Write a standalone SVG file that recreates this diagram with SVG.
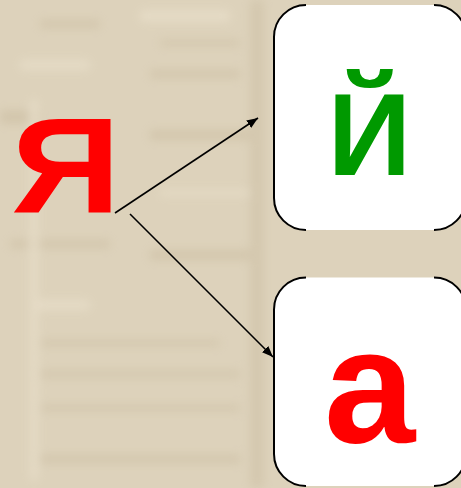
<svg xmlns="http://www.w3.org/2000/svg" width="461" height="488" viewBox="0 0 461 488">
<style>
.card{fill:#ffffff;stroke:none}
.edge{fill:none;stroke:#000000;stroke-width:2}
.conn{stroke:#000000;stroke-width:1.6;fill:none}
.letter{font-family:"Liberation Sans",Arial,sans-serif;font-weight:bold;text-anchor:middle}
</style>
<defs>
<marker id="arr" viewBox="0 0 10 8" refX="10" refY="4" markerWidth="7" markerHeight="5.6" orient="auto" markerUnits="strokeWidth">
<path d="M0,0 L10,4 L0,8 Z" fill="#000000"/>
</marker>
<filter id="blur" x="-20%" y="-50%" width="140%" height="200%"><feGaussianBlur stdDeviation="5"/></filter>
</defs>
<rect x="0" y="0" width="461" height="488" fill="#ddd2bb"/>
<g filter="url(#blur)" opacity="0.4">
<rect x="40" y="20" width="60" height="8" fill="#c4b598"/>
<rect x="140" y="10" width="90" height="12" fill="#f2e9d6"/>
<rect x="160" y="40" width="80" height="6" fill="#c4b598"/>
<rect x="20" y="60" width="70" height="10" fill="#f2e9d6"/>
<rect x="150" y="70" width="90" height="8" fill="#c4b598"/>
<rect x="0" y="110" width="40" height="14" fill="#c4b598"/>
<rect x="150" y="130" width="100" height="10" fill="#c4b598"/>
<rect x="160" y="190" width="90" height="6" fill="#f2e9d6"/>
<rect x="10" y="240" width="100" height="8" fill="#c4b598"/>
<rect x="150" y="250" width="100" height="10" fill="#c4b598"/>
<rect x="30" y="300" width="60" height="10" fill="#f2e9d6"/>
<rect x="40" y="340" width="180" height="6" fill="#c4b598"/>
<rect x="40" y="370" width="200" height="8" fill="#c8ba9e"/>
<rect x="40" y="405" width="200" height="6" fill="#c4b598"/>
<rect x="40" y="455" width="200" height="8" fill="#c4b598"/>
<rect x="30" y="100" width="8" height="380" fill="#f2e9d6"/>
<rect x="250" y="0" width="14" height="488" fill="#c8ba9e"/>
</g>
<g id="node-ya">
<text class="letter" x="66" y="212" font-size="136" fill="#ff0000" transform="translate(66 0) scale(1.12 1) translate(-66 0)">Я</text>
</g>
<g id="node-y">
<rect class="card" x="273.5" y="5" width="192" height="225" rx="32" ry="32"/>
<path class="edge" d="M306,5 A32,32 0 0 0 274,37 L274,198 A32,32 0 0 0 306,230 M434,5 A32,32 0 0 1 466,37 M466,198 A32,32 0 0 1 434,230"/>
<text class="letter" x="369.5" y="175" font-size="116" fill="#009900">Й</text>
</g>
<g id="node-a">
<rect class="card" x="273.5" y="277.5" width="192" height="208.5" rx="32" ry="32"/>
<path class="edge" d="M306,277.5 A32,32 0 0 0 274,309.5 L274,454 A32,32 0 0 0 306,486 M434,277.5 A32,32 0 0 1 466,309.5 M466,454 A32,32 0 0 1 434,486"/>
<text class="letter" x="369.5" y="442" font-size="164" fill="#ff0000">а</text>
</g>
<g id="connectors">
<line class="conn" x1="115" y1="213" x2="258" y2="118" marker-end="url(#arr)"/>
<line class="conn" x1="130" y1="214" x2="273" y2="357" marker-end="url(#arr)"/>
</g>
</svg>
